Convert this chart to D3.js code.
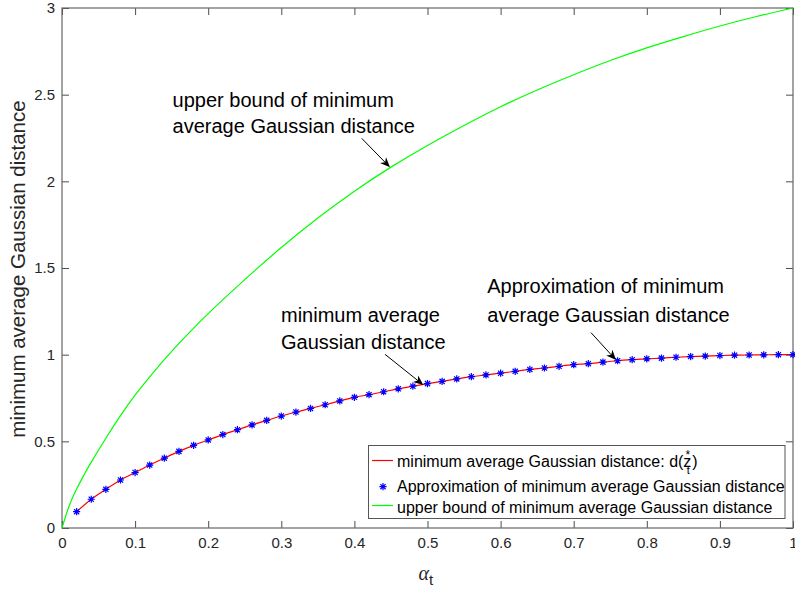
<!DOCTYPE html>
<html>
<head>
<meta charset="utf-8">
<script src="https://cdn.jsdelivr.net/npm/d3@7"></script>
<style>
  body { margin: 0; background: #fff; }
  svg { display: block; font-family: "Liberation Sans", Arial, Helvetica, sans-serif; }
</style>
</head>
<body>
<svg id="chart" width="795" height="590"></svg>
<script>
/* global d3 */

// alpha_t sample points of the minimum distance curve (and its approximation markers)
const alphaT = [0.02, 0.04, 0.06, 0.08, 0.10, 0.12, 0.14, 0.16, 0.18, 0.20,
                0.22, 0.24, 0.26, 0.28, 0.30, 0.32, 0.34, 0.36, 0.38, 0.40,
                0.42, 0.44, 0.46, 0.48, 0.50, 0.52, 0.54, 0.56, 0.58, 0.60,
                0.62, 0.64, 0.66, 0.68, 0.70, 0.72, 0.74, 0.76, 0.78, 0.80,
                0.82, 0.84, 0.86, 0.88, 0.90, 0.92, 0.94, 0.96, 0.98, 1.00];
const minDist = [0.094, 0.166, 0.223, 0.277, 0.320, 0.363, 0.403, 0.442, 0.477, 0.508,
                 0.539, 0.567, 0.595, 0.621, 0.646, 0.669, 0.690, 0.711, 0.733, 0.754,
                 0.769, 0.786, 0.803, 0.818, 0.833, 0.846, 0.860, 0.873, 0.883, 0.893,
                 0.904, 0.915, 0.923, 0.933, 0.942, 0.948, 0.957, 0.965, 0.971, 0.976,
                 0.980, 0.985, 0.989, 0.992, 0.995, 0.997, 0.998, 0.999, 1.000, 1.000];
// the approximation markers sit on the same curve
const approxDist = minDist.slice();

// upper bound curve
const boundAlpha = [0, 0.01, 0.02, 0.03, 0.04, 0.06, 0.08, 0.10, 0.125, 0.15, 0.175, 0.20,
                    0.25, 0.30, 0.35, 0.40, 0.45, 0.50, 0.55, 0.60,
                    0.65, 0.70, 0.75, 0.80, 0.85, 0.90, 0.95, 1.00];
const boundDist = [0, 0.13, 0.225, 0.305, 0.38, 0.518, 0.648, 0.766, 0.898, 1.019, 1.131, 1.237,
                   1.433, 1.618, 1.788, 1.943, 2.082, 2.207, 2.322, 2.43,
                   2.527, 2.615, 2.697, 2.77, 2.835, 2.896, 2.951, 3.00];

const xTicks = [0, 0.1, 0.2, 0.3, 0.4, 0.5, 0.6, 0.7, 0.8, 0.9, 1];
const xTickLabels = ["0", "0.1", "0.2", "0.3", "0.4", "0.5", "0.6", "0.7", "0.8", "0.9", "1"];
const yTicks = [0, 0.5, 1, 1.5, 2, 2.5, 3];
const yTickLabels = ["0", "0.5", "1", "1.5", "2", "2.5", "3"];

const legendLabels = ["minimum average Gaussian distance: d(",
                      "Approximation of minimum average Gaussian distance",
                      "upper bound of minimum average Gaussian distance"];

// text annotations with arrows, in data units
const notes = [
  { lines: ["upper bound of minimum", "average Gaussian distance"],
    at: [0.1513, 2.431], gap: 26.7, tail: [0.410, 2.248], tip: [0.4487, 2.081] },
  { lines: ["minimum average", "Gaussian distance"],
    at: [0.2996, 1.190], gap: 27.6, tail: [0.4419, 1.002], tip: [0.4943, 0.825] },
  { lines: ["Approximation of minimum", "average Gaussian distance"],
    at: [0.5818, 1.354], gap: 28.4, tail: [0.7237, 1.127], tip: [0.7579, 0.969] }
];

const svg = d3.select("#chart");
const W = 795, H = 590;
const margin = { left: 62, right: 2, top: 8, bottom: 62 };

const x = d3.scaleLinear().domain([0, 1]).range([margin.left, W - margin.right]);
const y = d3.scaleLinear().domain([0, 3]).range([H - margin.bottom, margin.top]);

const axisColor = "#4d4d4d", textColor = "#262626";

// axes, ticks pointing inward on all four sides
function styleAxis(g) {
  g.select(".domain").remove();
  g.selectAll(".tick line").attr("stroke", axisColor);
  g.selectAll(".tick text").attr("fill", textColor).style("font-size", "15px")
    .style("font-family", "\"Liberation Sans\", Arial, sans-serif");
}

svg.append("g")
  .attr("transform", `translate(0,${y(0)})`)
  .call(d3.axisBottom(x).tickValues(xTicks).tickSizeInner(-7).tickSizeOuter(0)
    .tickPadding(9).tickFormat((d, i) => xTickLabels[i]))
  .call(styleAxis);
svg.append("g")
  .attr("transform", `translate(0,${y(3)})`)
  .call(d3.axisTop(x).tickValues(xTicks).tickSizeInner(-7).tickSizeOuter(0).tickFormat(""))
  .call(styleAxis);
svg.append("g")
  .attr("transform", `translate(${x(0)},0)`)
  .call(d3.axisLeft(y).tickValues(yTicks).tickSizeInner(-7).tickSizeOuter(0)
    .tickPadding(7).tickFormat((d, i) => yTickLabels[i]))
  .call(styleAxis);
svg.append("g")
  .attr("transform", `translate(${x(1)},0)`)
  .call(d3.axisRight(y).tickValues(yTicks).tickSizeInner(-7).tickSizeOuter(0).tickFormat(""))
  .call(styleAxis);

svg.append("rect")
  .attr("x", x(0)).attr("y", y(3))
  .attr("width", x(1) - x(0)).attr("height", y(0) - y(3))
  .attr("fill", "none").attr("stroke", "#666").attr("stroke-width", 1.2);

// axis labels
svg.append("text")
  .attr("transform", `translate(25,${(y(0) + y(3)) / 2 + 1}) rotate(-90)`)
  .attr("text-anchor", "middle")
  .attr("fill", textColor)
  .style("font-size", "20.5px")
  .text("minimum average Gaussian distance");

const xl = svg.append("text")
  .attr("x", x(0.5) - 9).attr("y", 580)
  .attr("fill", textColor);
xl.append("tspan")
  .style("font-family", "\"Liberation Serif\", \"DejaVu Serif\", serif")
  .style("font-style", "italic").style("font-size", "20px")
  .text("α");
xl.append("tspan").attr("dy", 5).style("font-size", "15px").text("t");

// curves
const line = d3.line().x(d => x(d[0])).y(d => y(d[1])).curve(d3.curveMonotoneX);
const smooth = d3.line().x(d => x(d[0])).y(d => y(d[1])).curve(d3.curveNatural);

svg.append("path")
  .datum(d3.zip(alphaT, minDist))
  .attr("d", line)
  .attr("fill", "none").attr("stroke", "#ff0000").attr("stroke-width", 1.2);

function starPath(r) {
  const q = r * 0.72;
  return `M${-r},0H${r}M0,${-r}V${r}M${-q},${-q}L${q},${q}M${-q},${q}L${q},${-q}`;
}

svg.append("g").selectAll("path")
  .data(d3.zip(alphaT, approxDist))
  .join("path")
  .attr("transform", d => `translate(${x(d[0])},${y(d[1])})`)
  .attr("d", starPath(3.6))
  .attr("fill", "none").attr("stroke", "#0000ff").attr("stroke-width", 1.2);

svg.append("path")
  .datum(d3.zip(boundAlpha, boundDist))
  .attr("d", smooth)
  .attr("fill", "none").attr("stroke", "#00ff00").attr("stroke-width", 1.2);

// annotations
notes.forEach(n => {
  const t = svg.append("text")
    .attr("fill", "#000").style("font-size", "20px");
  n.lines.forEach((s, i) => {
    t.append("tspan").attr("x", x(n.at[0])).attr("y", y(n.at[1]) + i * n.gap).text(s);
  });
  const x0 = x(n.tail[0]), y0 = y(n.tail[1]), x1 = x(n.tip[0]), y1 = y(n.tip[1]);
  const ang = Math.atan2(y1 - y0, x1 - x0);
  const L = 10, Wd = 4.2, back = 7;
  const pt = (a, b) => [x1 + a * Math.cos(ang) - b * Math.sin(ang), y1 + a * Math.sin(ang) + b * Math.cos(ang)];
  svg.append("line")
    .attr("x1", x0).attr("y1", y0)
    .attr("x2", pt(-back, 0)[0]).attr("y2", pt(-back, 0)[1])
    .attr("stroke", "#000").attr("stroke-width", 1);
  svg.append("path")
    .attr("d", "M" + [pt(0, 0), pt(-L, Wd), pt(-back, 0), pt(-L, -Wd)].join("L") + "Z")
    .attr("fill", "#000");
});

// legend
const lg = svg.append("g");
lg.append("rect")
  .attr("x", 368.5).attr("y", 445.5).attr("width", 416.5).attr("height", 73)
  .attr("fill", "#fff").attr("stroke", "#555").attr("stroke-width", 1);

const rowText = [466.7, 491.7, 512.7];
const rowSym = [460.5, 486.7, 505.5];

lg.append("line").attr("x1", 372).attr("x2", 393).attr("y1", rowSym[0]).attr("y2", rowSym[0])
  .attr("stroke", "#ff0000").attr("stroke-width", 1.2);
lg.append("path").attr("transform", `translate(383,${rowSym[1]})`).attr("d", starPath(3.6))
  .attr("fill", "none").attr("stroke", "#0000ff").attr("stroke-width", 1.2);
lg.append("line").attr("x1", 372).attr("x2", 393).attr("y1", rowSym[2]).attr("y2", rowSym[2])
  .attr("stroke", "#00ff00").attr("stroke-width", 1.2);

legendLabels.forEach((s, i) => {
  lg.append("text").attr("class", "lt" + i)
    .attr("x", 397).attr("y", rowText[i])
    .attr("fill", "#000").style("font-size", "16px")
    .text(s);
});

// d( z with star above and subscript t )
const first = lg.select(".lt0");
const zx = 397 + first.node().getComputedTextLength();
const z = lg.append("text").attr("x", zx).attr("y", rowText[0])
  .attr("fill", "#000").style("font-size", "16px").text("z");
const zw = z.node().getComputedTextLength();
lg.append("text").attr("x", zx + zw / 2 + 0.5).attr("y", rowText[0] - 8)
  .attr("text-anchor", "middle").attr("fill", "#000").style("font-size", "12px").text("*");
lg.append("text").attr("x", zx + zw / 2 + 1).attr("y", rowText[0] + 7)
  .attr("text-anchor", "middle").attr("fill", "#000").style("font-size", "11px").text("t");
lg.append("text").attr("x", zx + zw + 1).attr("y", rowText[0])
  .attr("fill", "#000").style("font-size", "16px").text(")");
</script>
</body>
</html>
